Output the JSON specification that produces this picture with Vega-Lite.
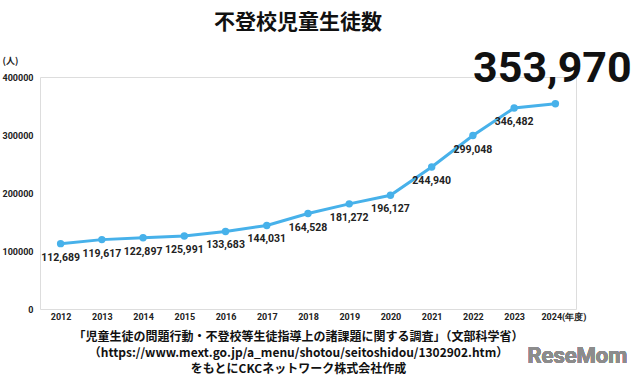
{
  "$schema": "https://vega.github.io/schema/vega-lite/v6.json",
  "autosize": {"type": "none"},
  "width": 536,
  "height": 232,
  "padding": {"left": 40, "top": 77, "right": 64, "bottom": 69},
  "background": "white",
  "title": {
    "text": "不登校児童生徒数",
    "font": "Noto Sans CJK JP",
    "fontSize": 21,
    "fontWeight": "bold",
    "color": "#111111",
    "anchor": "middle",
    "dx": -10,
    "offset": 15
  },
  "data": {
    "values": [
      {"year": "2012", "value": 112689},
      {"year": "2013", "value": 119617},
      {"year": "2014", "value": 122897},
      {"year": "2015", "value": 125991},
      {"year": "2016", "value": 133683},
      {"year": "2017", "value": 144031},
      {"year": "2018", "value": 164528},
      {"year": "2019", "value": 181272},
      {"year": "2020", "value": 196127},
      {"year": "2021", "value": 244940},
      {"year": "2022", "value": 299048},
      {"year": "2023", "value": 346482},
      {"year": "2024", "value": 353970}
    ]
  },
  "encoding": {
    "x": {
      "field": "year",
      "type": "ordinal",
      "scale": {"type": "point", "padding": 0.5},
      "axis": {
        "labelAngle": 0,
        "labelFont": "Roboto",
        "labelFontSize": 9,
        "labelFontWeight": "bold",
        "labelColor": "#222222",
        "labelPadding": 3,
        "domain": false,
        "ticks": false,
        "labelExpr": "datum.value == '2024' ? '2024(年度)' : datum.label",
        "labelOffset": {"condition": {"test": "datum.value == '2024'", "value": 8}, "value": 0},
        "title": [
          "「児童生徒の問題行動・不登校等生徒指導上の諸課題に関する調査」（文部科学省）",
          "（https://www.mext.go.jp/a_menu/shotou/seitoshidou/1302902.htm）",
          "をもとにCKCネットワーク株式会社作成"
        ],
        "titleFont": "Noto Sans CJK JP",
        "titleFontSize": 12,
        "titleFontWeight": "bold",
        "titleColor": "#111111",
        "titleLineHeight": 16,
        "titlePadding": 10,
        "titleX": 258
      }
    },
    "y": {
      "field": "value",
      "type": "quantitative",
      "scale": {"domain": [0, 400000]},
      "axis": {
        "values": [0, 100000, 200000, 300000, 400000],
        "format": "d",
        "grid": false,
        "domain": false,
        "ticks": false,
        "labelFont": "Roboto",
        "labelFontSize": 9,
        "labelFontWeight": "bold",
        "labelColor": "#222222",
        "labelPadding": 7,
        "title": "(人)",
        "titleFont": "Noto Sans CJK JP",
        "titleFontSize": 9,
        "titleFontWeight": "bold",
        "titleColor": "#222222",
        "titleAngle": 0,
        "titleAlign": "left",
        "titleBaseline": "middle",
        "titleX": -38,
        "titleY": -17
      }
    }
  },
  "layer": [
    {
      "mark": {"type": "line", "color": "#47B1EA", "strokeWidth": 3}
    },
    {
      "mark": {"type": "circle", "color": "#47B1EA", "size": 55, "opacity": 1}
    },
    {
      "transform": [{"filter": "datum.year != '2024'"}],
      "mark": {
        "type": "text",
        "font": "Roboto",
        "fontSize": 10.5,
        "fontWeight": "bold",
        "color": "#222222",
        "baseline": "middle",
        "dy": 14
      },
      "encoding": {"text": {"field": "value", "type": "quantitative", "format": ","}}
    },
    {
      "transform": [{"filter": "datum.year == '2024'"}],
      "mark": {
        "type": "text",
        "font": "Roboto",
        "fontSize": 43,
        "fontWeight": "bold",
        "color": "#111111",
        "baseline": "middle",
        "dx": -3,
        "dy": -35
      },
      "encoding": {"text": {"field": "value", "type": "quantitative", "format": ","}}
    },
    {
      "mark": {
        "type": "text",
        "text": "ReseMom",
        "font": "Roboto",
        "fontSize": 22,
        "fontWeight": "bold",
        "color": "#8c8c8c",
        "baseline": "middle",
        "dx": 22,
        "dy": 47
      },
      "encoding": {
        "x": {"datum": "2024", "type": "ordinal"},
        "y": {"datum": 0, "type": "quantitative"}
      }
    }
  ]
}
